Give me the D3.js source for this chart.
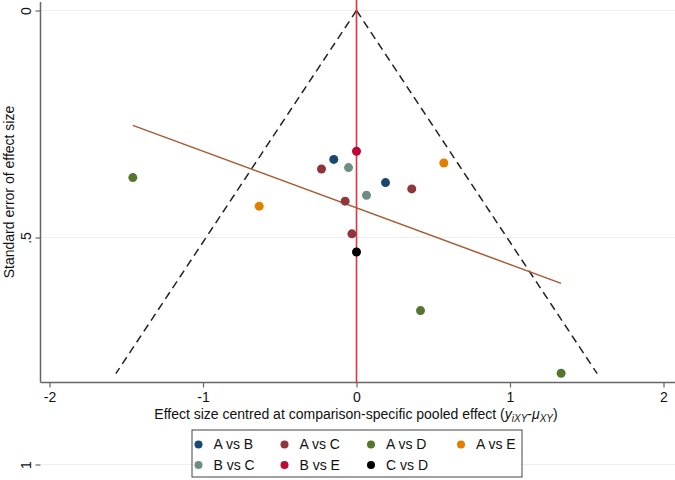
<!DOCTYPE html>
<html>
<head>
<meta charset="utf-8">
<script src="https://cdn.jsdelivr.net/npm/d3@7"></script>
<style>
  body { margin: 0; background: #fff; }
  svg { display: block; font-family: "Liberation Sans", Arial, sans-serif; }
</style>
</head>
<body>
<svg id="chart" width="675" height="480"></svg>
<script>
// comparison groups and colours (Stata s2color)
var groups = ["A vs B", "A vs C", "A vs D", "A vs E", "B vs C", "B vs E", "C vs D"];
var colors = ["#1a476f", "#90353b", "#55752f", "#e37e00", "#6e8e84", "#c10534", "#000000"];

// studies: centred effect, standard error, comparison
var effect = [-0.148, 0.189, -0.228, 0.360, -0.074, -0.030, -1.457, 0.417, 1.333, -0.634, 0.569, -0.052, 0.065, 0.0, 0.0];
var stderr = [0.328, 0.379, 0.349, 0.393, 0.420, 0.492, 0.368, 0.661, 0.799, 0.431, 0.336, 0.346, 0.407, 0.310, 0.532];
var comp   = ["A vs B", "A vs B", "A vs C", "A vs C", "A vs C", "A vs C", "A vs D", "A vs D", "A vs D", "A vs E", "A vs E", "B vs C", "B vs C", "B vs E", "C vs D"];

// fitted line (effect vs se) end points
var fitX = [-1.457, 1.333];
var fitSE = [0.253, 0.601];

// funnel: 95% limits up to max se
var funnelSE = [0, 0.80];
var xTicks = [-2, -1, 0, 1, 2];
var yTicks = [0, 0.5, 1];

var svg = d3.select("#chart");
var W = 675;
var axisX = 40.5, axisY = 382.5;

var x = d3.scaleLinear().domain([-2, 2]).range([49.5, 663.5]);
var y = d3.scaleLinear().domain([0, 1]).range([10.5, 464.5]);
var color = d3.scaleOrdinal().domain(groups).range(colors);

// gridlines
svg.append("g").selectAll("line").data(yTicks).join("line")
  .attr("x1", axisX).attr("x2", W)
  .attr("y1", d => y(d)).attr("y2", d => y(d))
  .attr("stroke", "#eeeeee").attr("stroke-width", 1);

// funnel lines
var seMax = funnelSE[1];
var funnel = [
  [[0, 0], [-1.96 * seMax, seMax]],
  [[0, 0], [1.96 * seMax, seMax]]
];
var line = d3.line().x(d => x(d[0])).y(d => y(d[1]));
svg.append("g").selectAll("path").data(funnel).join("path")
  .attr("d", line)
  .attr("fill", "none").attr("stroke", "#222").attr("stroke-width", 1.5)
  .attr("stroke-dasharray", "8,5");

// fitted line
svg.append("path")
  .attr("d", line([[fitX[0], fitSE[0]], [fitX[1], fitSE[1]]]))
  .attr("fill", "none").attr("stroke", "#a85a30").attr("stroke-width", 1.5);

// red line at zero
svg.append("line")
  .attr("x1", x(0)).attr("x2", x(0)).attr("y1", 0).attr("y2", axisY)
  .attr("stroke", "#e8333c").attr("stroke-width", 1.6);

// points
var pts = effect.map((e, i) => ({e: e, se: stderr[i], c: comp[i]}));
svg.append("g").selectAll("circle").data(pts).join("circle")
  .attr("cx", d => x(d.e)).attr("cy", d => y(d.se)).attr("r", 4.5)
  .attr("fill", d => color(d.c));

// axes
var xAxis = svg.append("g").attr("transform", "translate(0," + axisY + ")")
  .call(d3.axisBottom(x).tickValues(xTicks).tickSize(5).tickFormat(d => String(d)));
xAxis.select(".domain").remove();
xAxis.selectAll("line").attr("stroke", "#666").attr("stroke-width", 1.2);
xAxis.selectAll("text").attr("font-size", 14).attr("fill", "#111")
  .attr("y", 19.5).attr("dy", null)
  .attr("font-family", "Liberation Sans, Arial, sans-serif");

var yAxis = svg.append("g").attr("transform", "translate(" + axisX + ",0)")
  .call(d3.axisLeft(y).tickValues(yTicks).tickSize(5)
    .tickFormat(d => d === 0 ? "0" : d === 1 ? "1" : ".5"));
yAxis.select(".domain").remove();
yAxis.selectAll("line").attr("stroke", "#666").attr("stroke-width", 1.2);
yAxis.selectAll("text")
  .attr("font-size", 14).attr("fill", "#111")
  .attr("font-family", "Liberation Sans, Arial, sans-serif")
  .attr("x", null).attr("dy", null)
  .attr("text-anchor", "middle")
  .attr("transform", "translate(-10,0) rotate(-90)");

// axis lines
svg.append("line").attr("x1", axisX).attr("x2", axisX).attr("y1", 2).attr("y2", axisY)
  .attr("stroke", "#666").attr("stroke-width", 1.5);
svg.append("line").attr("x1", axisX).attr("x2", W).attr("y1", axisY).attr("y2", axisY)
  .attr("stroke", "#666").attr("stroke-width", 1.5);

// axis titles
svg.append("text")
  .attr("transform", "translate(14,192) rotate(-90)")
  .attr("text-anchor", "middle").attr("font-size", 14).attr("fill", "#111")
  .text("Standard error of effect size");

var xt = svg.append("text")
  .attr("x", 356).attr("y", 419)
  .attr("text-anchor", "middle").attr("font-size", 14).attr("fill", "#111");
xt.append("tspan").text("Effect size centred at comparison-specific pooled effect (");
xt.append("tspan").attr("font-style", "italic").text("y");
xt.append("tspan").attr("font-style", "italic").attr("font-size", 10).attr("dy", 3).text("iXY");
xt.append("tspan").attr("dy", -3).text("-");
xt.append("tspan").attr("font-style", "italic").text("\u03bc");
xt.append("tspan").attr("font-style", "italic").attr("font-size", 10).attr("dy", 3).text("XY");
xt.append("tspan").attr("dy", -3).text(")");

// legend
var lg = svg.append("g");
lg.append("rect").attr("x", 192).attr("y", 430).attr("width", 330).attr("height", 47)
  .attr("fill", "#fff").attr("stroke", "#444").attr("stroke-width", 1);
var colX = [198.5, 284.5, 371, 461];
var rowY = [444.5, 465];
var items = lg.selectAll("g.item").data(groups).join("g")
  .attr("transform", (d, i) => "translate(" + colX[i % 4] + "," + rowY[Math.floor(i / 4)] + ")");
items.append("circle").attr("r", 4).attr("fill", d => color(d));
items.append("text").attr("x", 15).attr("dy", "0.35em")
  .attr("font-size", 14).attr("fill", "#111").text(d => d);
</script>
</body>
</html>
